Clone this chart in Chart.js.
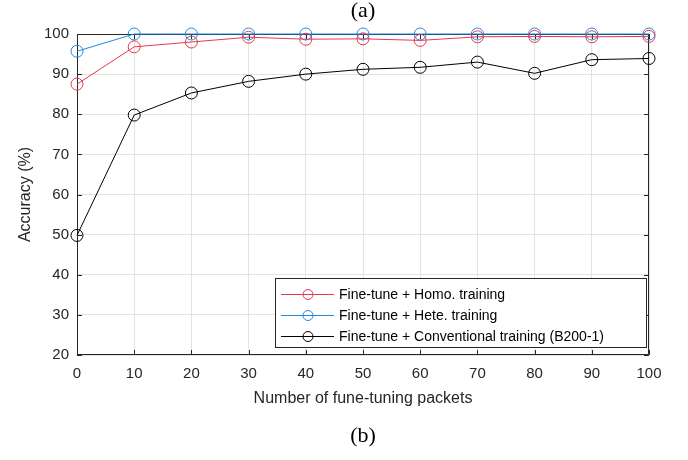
<!DOCTYPE html>
<html>
<head>
<meta charset="utf-8">
<script src="https://cdn.jsdelivr.net/npm/chart.js@4"></script>
<style>
  html, body { margin: 0; padding: 0; background: #fff; }
  #box { width: 688px; height: 460px; }
</style>
</head>
<body>
<div id="box"><canvas id="grafico"></canvas></div>
<script>
// dados
const pacotes = [0, 10, 20, 30, 40, 50, 60, 70, 80, 90, 100];
const homo = [87.5, 96.8, 98.0, 99.2, 98.7, 98.8, 98.4, 99.3, 99.4, 99.3, 99.4];
const hete = [95.7, 100, 100, 100, 100, 100, 100, 100, 100, 100, 100];
const convencional = [49.8, 79.8, 85.3, 88.2, 90.0, 91.2, 91.7, 93.0, 90.2, 93.6, 93.9];
const nomes = ['Fine-tune + Homo. training', 'Fine-tune + Hete. training', 'Fine-tune + Conventional training (B200-1)'];
const cores = ['#e5394f', '#1f88e2', '#000000'];

const corEixo = '#262626';
const fonteEixo = 'Liberation Sans, Arial, sans-serif';

function serie(i, valores) {
    return {
        label: nomes[i],
        data: pacotes.map((x, k) => ({ x: x, y: valores[k] })),
        borderColor: cores[i],
        borderWidth: 1,
        pointRadius: 6,
        pointHoverRadius: 6,
        pointBorderWidth: 1,
        pointBorderColor: cores[i],
        pointBackgroundColor: 'rgba(0,0,0,0)',
        tension: 0,
        clip: false
    };
}

// caixa e ticks para dentro (antes das linhas), (a)/(b) e legenda (depois)
const extras = {
    id: 'extras',
    beforeDatasetsDraw(chart) {
        const c = chart.ctx;
        const a = chart.chartArea;
        const sx = chart.scales.x, sy = chart.scales.y;
        c.save();
        c.strokeStyle = corEixo;
        c.lineWidth = 1;
        c.beginPath();
        c.rect(a.left + 0.5, a.top + 0.5, a.right - a.left - 1, a.bottom - a.top - 1);
        c.stroke();
        c.beginPath();
        sx.ticks.forEach(t => {
            const px = Math.round(sx.getPixelForValue(t.value)) + 0.5;
            c.moveTo(px, a.bottom); c.lineTo(px, a.bottom - 5);
            c.moveTo(px, a.top); c.lineTo(px, a.top + 5);
        });
        sy.ticks.forEach(t => {
            const py = Math.round(sy.getPixelForValue(t.value)) + 0.5;
            c.moveTo(a.left, py); c.lineTo(a.left + 5, py);
            c.moveTo(a.right, py); c.lineTo(a.right - 5, py);
        });
        c.stroke();
        c.restore();
    },
    afterDraw(chart) {
        const c = chart.ctx;
        const a = chart.chartArea;
        c.save();
        // (a) e (b)
        const meio = (a.left + a.right) / 2;
        c.fillStyle = '#000';
        c.font = '22px "Liberation Serif", "DejaVu Serif", serif';
        c.textAlign = 'center';
        c.textBaseline = 'middle';
        c.fillText('(a)', meio, 11);
        c.fillText('(b)', meio, 436);

        // legenda
        const lx = 275, ly = 278, lw = 371, lh = 69;
        c.fillStyle = '#fff';
        c.fillRect(lx, ly, lw, lh);
        c.strokeStyle = corEixo;
        c.lineWidth = 1;
        c.strokeRect(lx + 0.5, ly + 0.5, lw, lh);
        c.font = '14px ' + fonteEixo;
        c.textAlign = 'left';
        chart.data.datasets.forEach((ds, i) => {
            const y = ly + 16 + i * 21;
            c.strokeStyle = ds.borderColor;
            c.beginPath();
            c.moveTo(lx + 6, y + 0.5); c.lineTo(lx + 59, y + 0.5);
            c.stroke();
            c.beginPath();
            c.arc(lx + 33, y + 0.5, 5, 0, Math.PI * 2);
            c.stroke();
            c.fillStyle = '#000';
            c.fillText(ds.label, lx + 64, y + 1);
        });
        c.restore();
    }
};

new Chart(document.getElementById('grafico').getContext('2d'), {
    type: 'line',
    data: {
        datasets: [serie(0, homo), serie(1, hete), serie(2, convencional)]
    },
    options: {
        responsive: true,
        maintainAspectRatio: false,
        animation: false,
        layout: { padding: { top: 34, right: 39, left: 0, bottom: 0 } },
        scales: {
            x: {
                type: 'linear',
                min: 0,
                max: 100,
                afterFit: s => { s.height = 105; },
                ticks: { stepSize: 10, color: corEixo, padding: 10, font: { size: 15, family: fonteEixo } },
                grid: { color: '#e3e3e3', drawTicks: false },
                border: { display: false },
                title: {
                    display: true,
                    text: 'Number of fune-tuning packets',
                    color: corEixo,
                    font: { size: 16, family: fonteEixo },
                    padding: { top: 0, bottom: 52 }
                }
            },
            y: {
                min: 20,
                max: 100,
                afterFit: s => { s.width = 77; },
                ticks: { stepSize: 10, color: corEixo, padding: 8, font: { size: 15, family: fonteEixo } },
                grid: { color: '#e3e3e3', drawTicks: false },
                border: { display: false },
                title: {
                    display: true,
                    text: 'Accuracy (%)',
                    color: corEixo,
                    font: { size: 16, family: fonteEixo },
                    padding: { top: 16, bottom: 0 }
                }
            }
        },
        plugins: {
            legend: { display: false },
            tooltip: { enabled: false }
        }
    },
    plugins: [extras]
});
</script>
</body>
</html>
